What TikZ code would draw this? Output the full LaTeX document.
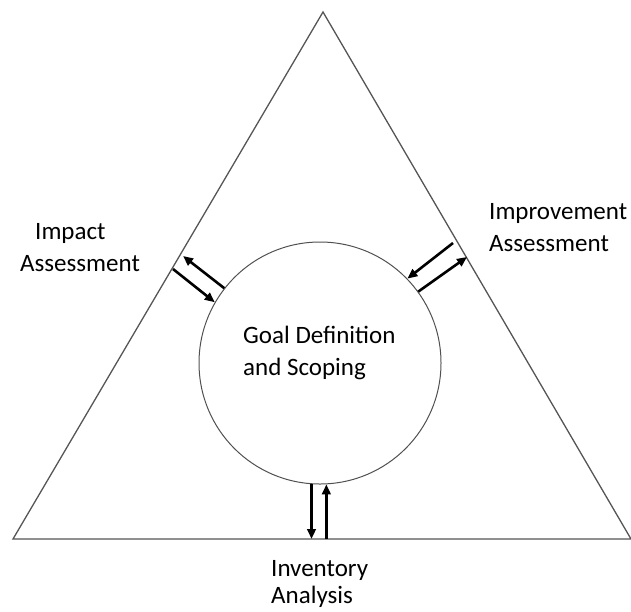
\documentclass[tikz,border=0pt]{standalone}
\usepackage{fontspec}
\setmainfont{Carlito}
\usepackage{xcolor}
\definecolor{edgegray}{HTML}{555555}
\definecolor{ringgray}{HTML}{505050}
\usetikzlibrary{arrows.meta, positioning}
\tikzset{
    side/.style={
        draw=edgegray, line width=1.3pt, line join=miter
    },
    phase/.style={
        circle, draw=ringgray, line width=1pt,
        inner sep=0pt,
        minimum size=242pt
    },
    lbl/.style={
        inner sep=0pt, align=left, anchor=north west,
        font=\fontsize{25}{32}\selectfont
    },
    conn/.style={
        line width=2.6pt,
        -{Triangle[length=10pt, width=8.5pt]},
    },
}

\begin{document}
\begin{tikzpicture}[x=1pt, y=-1pt]
    \useasboundingbox (0,0) rectangle (631,611);
    % Draw outer triangle
    \coordinate (top) at (323,12);
    \coordinate (left) at (13,539);
    \coordinate (right) at (631,539);
    \draw[side] (top) -- (left) -- (right) -- cycle;

    % Draw centre circle and labels
    \node[phase] (goal) at (320,363) {};
    \node[lbl] (goaltext) at (243,326) {Goal Definition\\and Scoping};
    \node[lbl] (impact) at (20,223) {\hspace{15pt}Impact\\Assessment};
    \node[lbl] (improve) at (489,203) {Improvement\\Assessment};
    \node[lbl, font=\fontsize{25}{27}\selectfont] (inventory) at (271,560) {Inventory\\Analysis};

    % Arrow ends next to the sides
    \coordinate (ia out) at (183,256);
    \coordinate (ia in) at (173,269);
    \coordinate (im in) at (453,243);
    \coordinate (im out) at (467,257);

    \draw[conn] (goal.142.5) -- (ia out);
    \draw[conn] (ia in) -- (goal.150);
    \draw[conn] (im in) -- (goal.44.7);
    \draw[conn] (goal.36) -- (im out);
    \draw[conn] (goal.266.7) -- (goal.266.7 |- left);
    \draw[conn] (goal.273.8 |- left) -- (goal.273.8);
\end{tikzpicture}
\end{document}
